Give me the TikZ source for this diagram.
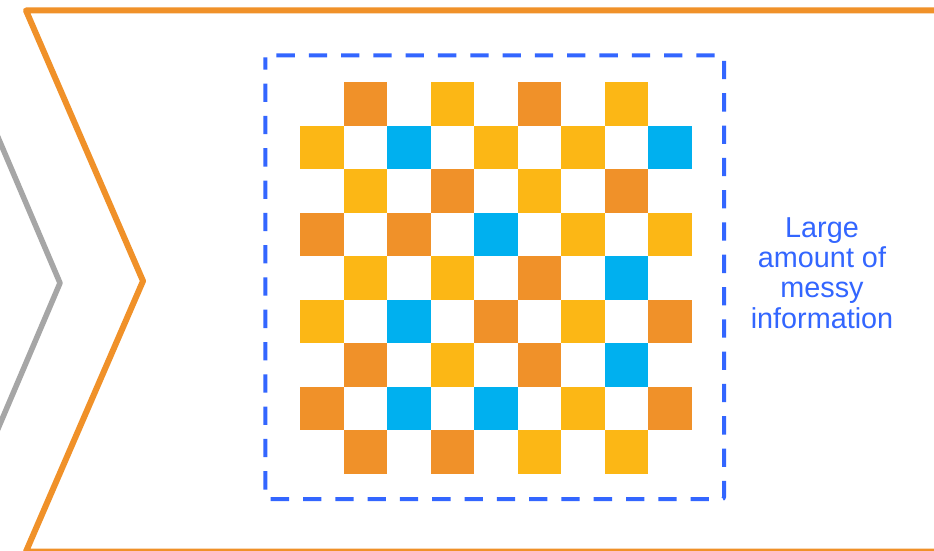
\documentclass[tikz,border=0pt]{standalone}
\usepackage{fontspec}
\setmainfont{Liberation Sans}
\definecolor{chevorange}{RGB}{240,145,41}
\definecolor{cO}{RGB}{240,145,41}
\definecolor{cY}{RGB}{252,183,21}
\definecolor{cB}{RGB}{0,176,239}
\definecolor{dashblue}{RGB}{51,102,255}
\definecolor{chevgray}{RGB}{166,166,166}
\tikzset{
  chevline/.style={line width=6pt, line join=round},
  dashframe/.style={draw=dashblue, line width=4pt, dash pattern=on 18.3pt off 14pt, dash phase=6pt, rounded corners=2pt},
  infotext/.style={text=dashblue, font=\fontsize{28.8}{30.2}\selectfont, align=center, inner sep=0pt}
}
\begin{document}
\begin{tikzpicture}[x=1pt,y=-1pt]
\useasboundingbox (0,0) rectangle (934,551);
\fill[white] (0,0) rectangle (934,551);
\begin{scope}
\clip (0,0) rectangle (934,551);
\draw[chevline, draw=chevgray, line width=5.5pt] (-40,48) -- (60,283) -- (-40,518);
\draw[chevline, draw=chevorange] (960,10.5) -- (26,10.5) -- (143,281) -- (26,551.5) -- (960,551.5);
\end{scope}
% grid
\def\cw{43.52}
\foreach \c/\r/\col in {
  1/0/cO,3/0/cY,5/0/cO,7/0/cY,
  0/1/cY,2/1/cB,4/1/cY,6/1/cY,8/1/cB,
  1/2/cY,3/2/cO,5/2/cY,7/2/cO,
  0/3/cO,2/3/cO,4/3/cB,6/3/cY,8/3/cY,
  1/4/cY,3/4/cY,5/4/cO,7/4/cB,
  0/5/cY,2/5/cB,4/5/cO,6/5/cY,8/5/cO,
  1/6/cO,3/6/cY,5/6/cO,7/6/cB,
  0/7/cO,2/7/cB,4/7/cB,6/7/cY,8/7/cO,
  1/8/cO,3/8/cO,5/8/cY,7/8/cY}
{
  \fill[\col] ({300+\c*\cw},{82+\r*\cw}) rectangle ({300+(\c+1)*\cw},{82+(\r+1)*\cw});
}
\draw[dashframe] (265.3,55.3) rectangle (724,499);
\node[infotext] (info) at (822,273) {Large\\amount of\\messy\\information};
\end{tikzpicture}
\end{document}
